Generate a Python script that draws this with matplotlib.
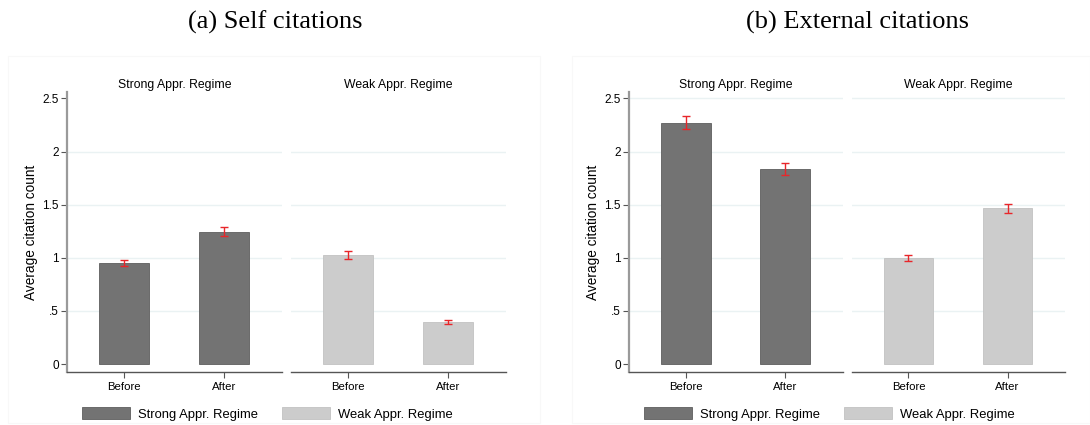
import matplotlib
matplotlib.use("Agg")
import matplotlib.pyplot as plt
from matplotlib.patches import Patch, Rectangle

plt.rcParams['font.family'] = ['Liberation Sans', 'DejaVu Sans']

periods = ["Before", "After"]
regimes = ["Strong Appr. Regime", "Weak Appr. Regime"]
chart_titles = ["(a) Self citations", "(b) External citations"]

# mean citation counts, [regime][period]
self_strong = [0.95, 1.245]
self_weak = [1.025, 0.395]
ext_strong = [2.27, 1.835]
ext_weak = [0.997, 1.465]

# half-width of the confidence intervals
self_strong_err = [0.03, 0.04]
self_weak_err = [0.04, 0.02]
ext_strong_err = [0.06, 0.056]
ext_weak_err = [0.03, 0.04]

yticks = [0, 0.5, 1, 1.5, 2, 2.5]
ytick_labels = ["0", ".5", "1", "1.5", "2", "2.5"]

dark = "#737373"
light = "#cccccc"
err_col = "#e8262a"
grid_col = "#eaf2f3"

charts = [
    dict(title=chart_titles[0], vals=[self_strong, self_weak],
         errs=[self_strong_err, self_weak_err], grid25=False,
         panels=[(67, 282), (291, 506)], center=275, frame=(8, 540)),
    dict(title=chart_titles[1], vals=[ext_strong, ext_weak],
         errs=[ext_strong_err, ext_weak_err], grid25=True,
         panels=[(629, 843), (852, 1065)], center=858, frame=(572, 1090)),
]

W, H = 1090, 425
fig = plt.figure(figsize=(W / 100, H / 100), dpi=100)

y_bot, y_top = 372, 92
for ch in charts:
    # faint graph region frame
    fx0, fx1 = ch['frame']
    fig.patches.append(Rectangle((fx0 / W, 0.005), (fx1 - fx0) / W, 1 - 56 / H - 0.005,
                                 transform=fig.transFigure, fill=False,
                                 edgecolor="#f8f8f8", lw=0.8))
    fig.text(ch['center'] / W, 1 - 22 / H, ch['title'], ha='center', va='center',
             fontsize=19, family=['Liberation Serif', 'DejaVu Serif'])
    for i, (x0, x1) in enumerate(ch['panels']):
        ax = fig.add_axes([x0 / W, 1 - y_bot / H, (x1 - x0) / W, (y_bot - y_top) / H])
        color = dark if i == 0 else light
        ax.bar(range(2), ch['vals'][i], width=0.5, color=color,
               edgecolor="#5e5e5e" if i == 0 else "#c2c2c2", lw=0.6, zorder=2)
        ax.errorbar(range(2), ch['vals'][i], yerr=ch['errs'][i], fmt='none',
                    ecolor=err_col, elinewidth=1.0, capsize=3, capthick=1.0, zorder=3)
        ax.set_xlim(-0.57, 1.58)
        ax.set_ylim(-0.075, 2.56)
        for g in yticks[1:]:
            if g == 2.5 and not ch['grid25']:
                continue
            ax.axhline(g, color=grid_col, lw=1.0, zorder=1)
        ax.set_xticks(range(2))
        ax.set_xticklabels(periods, fontsize=8.2)
        ax.tick_params(axis='x', length=4, color="#555555", pad=3)
        ax.set_title(regimes[i], fontsize=8.8, pad=3)
        for s in ['top', 'right']:
            ax.spines[s].set_visible(False)
        ax.spines['bottom'].set_color("#555555")
        ax.spines['bottom'].set_linewidth(1.0)
        if i == 0:
            ax.spines['left'].set_color("#9a9a9a")
            ax.spines['left'].set_linewidth(1.6)
            ax.set_yticks(yticks)
            ax.set_yticklabels(ytick_labels, fontsize=8.5)
            ax.tick_params(axis='y', length=4, color="#555555", pad=2)
            ax.set_ylabel("Average citation count", fontsize=9.8, labelpad=3)
        else:
            ax.spines['left'].set_visible(False)
            ax.set_yticks([])

    # legend
    lx = ch['panels'][0][0]
    handles = [Patch(facecolor=dark, edgecolor="#5e5e5e", lw=0.6),
               Patch(facecolor=light, edgecolor="#c2c2c2", lw=0.6)]
    fig.legend(handles, regimes, loc='center left',
               bbox_to_anchor=((lx + 15) / W, 1 - 414 / H), ncol=2, frameon=False,
               fontsize=9.4, handlelength=3.67, handleheight=1.0,
               columnspacing=1.85, handletextpad=0.6, borderaxespad=0, borderpad=0)

fig.savefig("out.png", dpi=100, facecolor="white")
